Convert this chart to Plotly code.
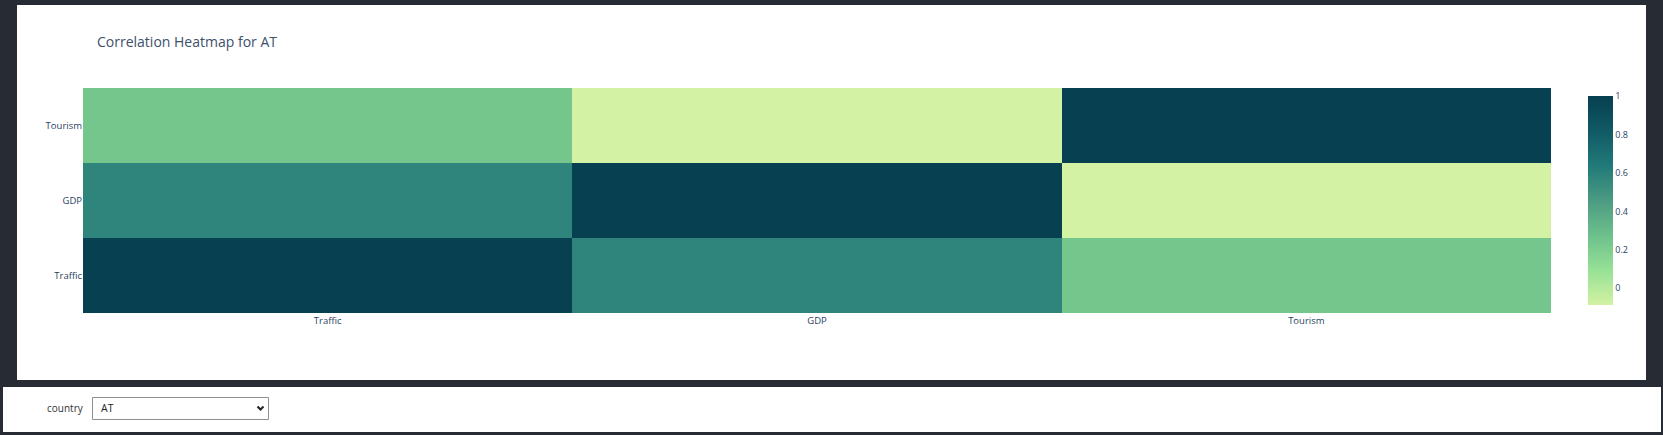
import plotly.graph_objects as go

W, H = 1663, 435

variables = ["Traffic", "GDP", "Tourism"]
corr_traffic = [1.0, 0.58, 0.24]
corr_gdp = [0.58, 1.0, -0.087]
corr_tourism = [0.24, -0.087, 1.0]
countries = ["AT"]
selected_country = "AT"

z = [corr_traffic, corr_gdp, corr_tourism]

def px(v):
    return v / W

def py(v):
    return 1 - v / H

BG = "#272b33"
FONT = "Open Sans"

fig = go.Figure(
    go.Heatmap(
        z=z,
        x=variables,
        y=variables,
        colorscale="Emrld",
        colorbar=dict(
            thickness=25,
            x=px(1588), xanchor="left", xpad=0,
            y=py(96), yanchor="top", ypad=0,
            len=209 / H, lenmode="fraction",
            outlinewidth=0,
            tickfont=dict(size=9, color="#2a3f5f", family=FONT),
            dtick=0.2,
        ),
    )
)

shapes = [
    # dashboard cards
    dict(type="rect", xref="paper", yref="paper", x0=px(17), x1=px(1646),
         y0=py(380), y1=py(5), fillcolor="white", line=dict(width=0), layer="below"),
    dict(type="rect", xref="paper", yref="paper", x0=px(3), x1=px(1661),
         y0=py(432), y1=py(387), fillcolor="white", line=dict(width=0), layer="below"),
    # select box
    dict(type="rect", xref="paper", yref="paper", x0=px(92.5), x1=px(268.5),
         y0=py(419.5), y1=py(397.5), fillcolor="white",
         line=dict(width=1, color="#8f8f8f"), layer="above"),
    # chevron of the select box
    dict(type="path", xref="paper", yref="paper",
         path=f"M {px(257.5)} {py(406.5)} L {px(260.5)} {py(409.5)} L {px(263.5)} {py(406.5)}",
         line=dict(width=2, color="#222222"), layer="above"),
]

fig.update_layout(
    width=W, height=H, autosize=False,
    margin=dict(l=0, r=0, t=0, b=0),
    paper_bgcolor=BG,
    plot_bgcolor="white",
    font=dict(family=FONT, color="#2a3f5f"),
    title=dict(
        text=f"Correlation Heatmap for {selected_country}",
        x=px(97), xanchor="left", xref="paper",
        y=py(42), yanchor="middle", yref="paper",
        font=dict(size=14, color="#3d4f6b", family=FONT),
    ),
    xaxis=dict(domain=[px(83), px(1551)], tickfont=dict(size=9.5), showgrid=False,
               zeroline=False, ticks=""),
    yaxis=dict(domain=[py(313), py(88)], tickfont=dict(size=9.5), showgrid=False,
               zeroline=False, ticks=""),
    shapes=shapes,
    annotations=[
        dict(text="country", xref="paper", yref="paper", x=px(86), y=py(408),
             xanchor="right", yanchor="middle", showarrow=False,
             font=dict(size=10, color="#333333", family=FONT)),
        dict(text=selected_country, xref="paper", yref="paper", x=px(99), y=py(408),
             xanchor="left", yanchor="middle", showarrow=False,
             font=dict(size=10.5, color="#222222", family=FONT)),
    ],
)

fig.write_html(
    "out.html",
    config={"displayModeBar": False},
    post_script=f"document.body.style.margin='0';document.body.style.background='{BG}';",
)
